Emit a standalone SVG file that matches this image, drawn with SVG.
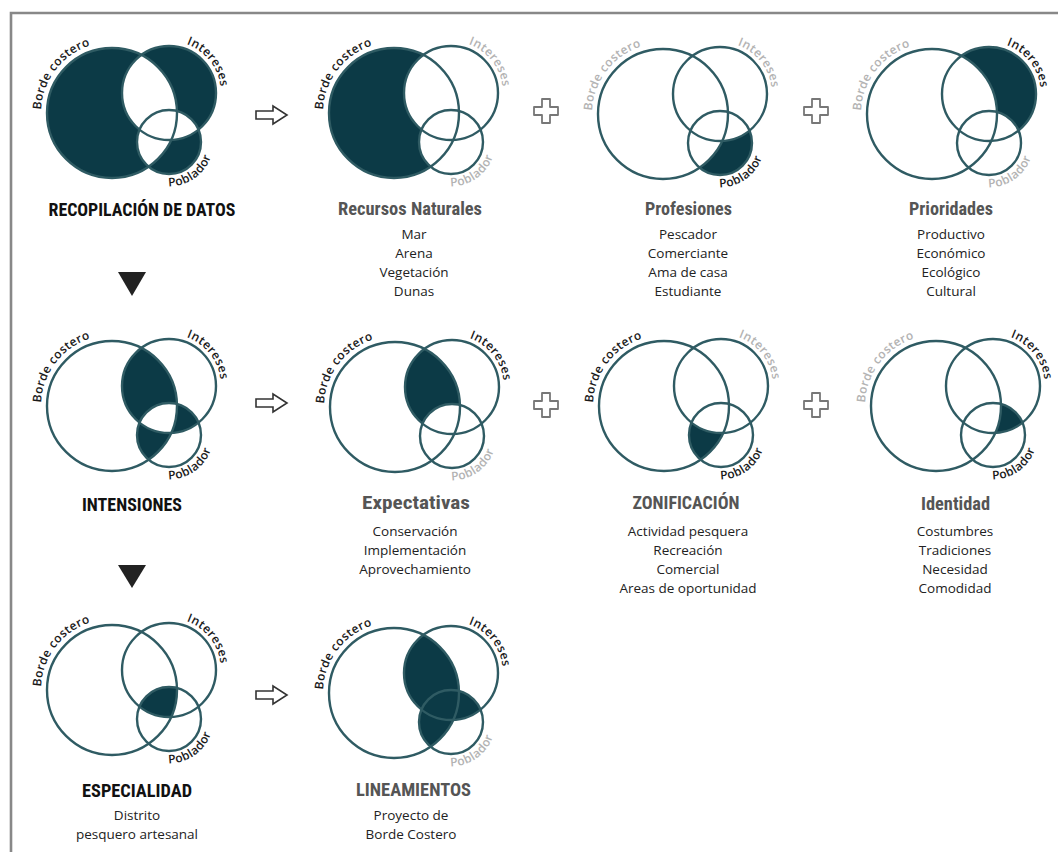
<svg xmlns="http://www.w3.org/2000/svg" xmlns:xlink="http://www.w3.org/1999/xlink" width="1058" height="852" viewBox="0 0 1058 852">
<style>
.lb{font-family:'Open Sans','DejaVu Sans',sans-serif;font-size:12px;font-weight:600;letter-spacing:0.4px;text-anchor:middle}
.k{fill:#1a1a1a}
.g{fill:#b3b3b3}
.t{font-family:'Liberation Sans Narrow','Roboto Condensed','Liberation Sans',sans-serif;font-weight:bold;font-size:18px;text-anchor:middle}
.tk{fill:#111111}
.tg{fill:#555555}
.s{font-family:'Open Sans','Liberation Sans',sans-serif;font-size:13.5px;fill:#222222;text-anchor:middle}
</style>
<defs>
<clipPath id="cA"><circle cx="0" cy="0" r="65"/></clipPath>
<clipPath id="cI"><circle cx="57" cy="-20" r="47"/></clipPath>
<mask id="nA"><rect x="-120" y="-120" width="300" height="300" fill="#fff"/><circle r="65" fill="#000"/></mask>
<mask id="nI"><rect x="-120" y="-120" width="300" height="300" fill="#fff"/><circle cx="57" cy="-20" r="47" fill="#000"/></mask>
<mask id="nP"><rect x="-120" y="-120" width="300" height="300" fill="#fff"/><circle cx="57" cy="29" r="32" fill="#000"/></mask>
<mask id="nIP"><rect x="-120" y="-120" width="300" height="300" fill="#fff"/><circle cx="57" cy="-20" r="47" fill="#000"/><circle cx="57" cy="29" r="32" fill="#000"/></mask>
<mask id="nAP"><rect x="-120" y="-120" width="300" height="300" fill="#fff"/><circle r="65" fill="#000"/><circle cx="57" cy="29" r="32" fill="#000"/></mask>
<mask id="nAI"><rect x="-120" y="-120" width="300" height="300" fill="#fff"/><circle r="65" fill="#000"/><circle cx="57" cy="-20" r="47" fill="#000"/></mask>
<g id="rA"><circle r="65" fill="#0c3a46" mask="url(#nIP)"/></g>
<g id="rI"><circle cx="57" cy="-20" r="47" fill="#0c3a46" mask="url(#nAP)"/></g>
<g id="rP"><circle cx="57" cy="29" r="32" fill="#0c3a46" mask="url(#nAI)"/></g>
<g id="rAI"><g clip-path="url(#cA)"><circle cx="57" cy="-20" r="47" fill="#0c3a46" mask="url(#nP)"/></g></g>
<g id="rAP"><g clip-path="url(#cA)"><circle cx="57" cy="29" r="32" fill="#0c3a46" mask="url(#nI)"/></g></g>
<g id="rIP"><g clip-path="url(#cI)"><circle cx="57" cy="29" r="32" fill="#0c3a46" mask="url(#nA)"/></g></g>
<g id="rAIP"><g clip-path="url(#cA)"><g clip-path="url(#cI)"><circle cx="57" cy="29" r="32" fill="#0c3a46"/></g></g></g>
<g id="rAIfull"><g clip-path="url(#cA)"><circle cx="57" cy="-20" r="47" fill="#0c3a46"/></g></g>
<g id="rAPfull"><g clip-path="url(#cA)"><circle cx="57" cy="29" r="32" fill="#0c3a46"/></g></g>
<g id="rIPfull"><g clip-path="url(#cI)"><circle cx="57" cy="29" r="32" fill="#0c3a46"/></g></g>
<g id="ol" fill="none" stroke="#2f5b63" stroke-width="2.4"><circle r="65"/><circle cx="57" cy="-20" r="47"/><circle cx="57" cy="29" r="32"/></g>
<path id="pB" d="M -66.72 24.28 A 71 71 0 0 1 6.19 -70.73"/>
<path id="pI" d="M 58.36 -71.98 A 52 52 0 0 1 107.96 -9.63"/>
<path id="pP" d="M 46.3 72.1 A 44.5 44.5 0 0 0 101.3 33.2"/>
<path id="plus" d="M -4 -12 H 4 V -4 H 12 V 4 H 4 V 12 H -4 V 4 H -12 V -4 H -4 Z" fill="#fff" stroke="#777" stroke-width="1.8" stroke-linejoin="round"/>
<path id="arr" d="M 0 -4 H 17 V -9 L 31 0 L 17 9 V 4 H 0 Z" fill="#fff" stroke="#333" stroke-width="1.6" stroke-linejoin="miter"/>
</defs>
<rect x="0" y="0" width="1058" height="852" fill="#ffffff"/>
<path d="M 11 852 V 13 H 1058" fill="none" stroke="#888" stroke-width="2.6"/>

<g id="connectors">
<use href="#arr" x="256" y="115"/>
<use href="#arr" x="256" y="403"/>
<use href="#arr" x="256" y="695"/>
<use href="#plus" x="546" y="111"/>
<use href="#plus" x="816" y="111"/>
<use href="#plus" x="546" y="405"/>
<use href="#plus" x="816" y="405"/>
<path d="M 118 272 H 146 L 132 296 Z" fill="#222"/>
<path d="M 118 565 H 146 L 132 588 Z" fill="#222"/>
</g>

<g id="n1">
<g transform="translate(112,113)">
<use href="#rA"/><use href="#rI"/><use href="#rP"/><use href="#ol"/>
<text class="lb k"><textPath href="#pB" startOffset="50%">Borde costero</textPath></text>
<text class="lb k"><textPath href="#pI" startOffset="50%">Intereses</textPath></text>
<text class="lb k"><textPath href="#pP" startOffset="50%">Poblador</textPath></text>
</g>
<text class="t tk" x="142" y="216" font-size="19" textLength="187" lengthAdjust="spacingAndGlyphs">RECOPILACIÓN DE DATOS</text>
</g>

<g id="n2">
<g transform="translate(394,113)">
<use href="#rA"/><use href="#ol"/>
<text class="lb k"><textPath href="#pB" startOffset="50%">Borde costero</textPath></text>
<text class="lb g"><textPath href="#pI" startOffset="50%">Intereses</textPath></text>
<text class="lb g"><textPath href="#pP" startOffset="50%">Poblador</textPath></text>
</g>
<text class="t tg" x="410" y="215" textLength="144" lengthAdjust="spacingAndGlyphs">Recursos Naturales</text>
<text class="s" x="414" y="239">Mar</text>
<text class="s" x="414" y="258">Arena</text>
<text class="s" x="414" y="277">Vegetación</text>
<text class="s" x="414" y="296">Dunas</text>
</g>

<g id="n3">
<g transform="translate(663,114)">
<use href="#rP"/><use href="#ol"/>
<text class="lb g"><textPath href="#pB" startOffset="50%">Borde costero</textPath></text>
<text class="lb g"><textPath href="#pI" startOffset="50%">Intereses</textPath></text>
<text class="lb k"><textPath href="#pP" startOffset="50%">Poblador</textPath></text>
</g>
<text class="t tg" x="688.5" y="215" textLength="87" lengthAdjust="spacingAndGlyphs">Profesiones</text>
<text class="s" x="688" y="239">Pescador</text>
<text class="s" x="688" y="258">Comerciante</text>
<text class="s" x="688" y="277">Ama de casa</text>
<text class="s" x="688" y="296">Estudiante</text>
</g>

<g id="n4">
<g transform="translate(932,114)">
<use href="#rI"/><use href="#ol"/>
<text class="lb g"><textPath href="#pB" startOffset="50%">Borde costero</textPath></text>
<text class="lb k"><textPath href="#pI" startOffset="50%">Intereses</textPath></text>
<text class="lb g"><textPath href="#pP" startOffset="50%">Poblador</textPath></text>
</g>
<text class="t tg" x="951" y="215" textLength="84" lengthAdjust="spacingAndGlyphs">Prioridades</text>
<text class="s" x="951" y="239">Productivo</text>
<text class="s" x="951" y="258">Económico</text>
<text class="s" x="951" y="277">Ecológico</text>
<text class="s" x="951" y="296">Cultural</text>
</g>

<g id="n5">
<g transform="translate(112,406)">
<use href="#rAI"/><use href="#rAP"/><use href="#rIP"/><use href="#ol"/>
<text class="lb k"><textPath href="#pB" startOffset="50%">Borde costero</textPath></text>
<text class="lb k"><textPath href="#pI" startOffset="50%">Intereses</textPath></text>
<text class="lb k"><textPath href="#pP" startOffset="50%">Poblador</textPath></text>
</g>
<text class="t tk" x="132" y="511" font-size="19" textLength="100" lengthAdjust="spacingAndGlyphs">INTENSIONES</text>
</g>

<g id="n6">
<g transform="translate(395,407)">
<use href="#rAI"/><use href="#ol"/>
<text class="lb k"><textPath href="#pB" startOffset="50%">Borde costero</textPath></text>
<text class="lb k"><textPath href="#pI" startOffset="50%">Intereses</textPath></text>
<text class="lb g"><textPath href="#pP" startOffset="50%">Poblador</textPath></text>
</g>
<text class="t tg" x="416" y="509" font-size="20" textLength="108" lengthAdjust="spacingAndGlyphs">Expectativas</text>
<text class="s" x="415" y="536">Conservación</text>
<text class="s" x="415" y="555">Implementación</text>
<text class="s" x="415" y="574">Aprovechamiento</text>
</g>

<g id="n7">
<g transform="translate(664,406)">
<use href="#rAP"/><use href="#ol"/>
<text class="lb k"><textPath href="#pB" startOffset="50%">Borde costero</textPath></text>
<text class="lb g"><textPath href="#pI" startOffset="50%">Intereses</textPath></text>
<text class="lb k"><textPath href="#pP" startOffset="50%">Poblador</textPath></text>
</g>
<text class="t tg" x="686" y="509" textLength="107" lengthAdjust="spacingAndGlyphs">ZONIFICACIÓN</text>
<text class="s" x="688" y="536">Actividad pesquera</text>
<text class="s" x="688" y="555">Recreación</text>
<text class="s" x="688" y="574">Comercial</text>
<text class="s" x="688" y="593">Areas de oportunidad</text>
</g>

<g id="n8">
<g transform="translate(936,406)">
<use href="#rIP"/><use href="#ol"/>
<text class="lb g"><textPath href="#pB" startOffset="50%">Borde costero</textPath></text>
<text class="lb k"><textPath href="#pI" startOffset="50%">Intereses</textPath></text>
<text class="lb k"><textPath href="#pP" startOffset="50%">Poblador</textPath></text>
</g>
<text class="t tg" x="955.5" y="510" textLength="69" lengthAdjust="spacingAndGlyphs">Identidad</text>
<text class="s" x="955" y="536">Costumbres</text>
<text class="s" x="955" y="555">Tradiciones</text>
<text class="s" x="955" y="574">Necesidad</text>
<text class="s" x="955" y="593">Comodidad</text>
</g>

<g id="n9">
<g transform="translate(112,690)">
<use href="#rAIP"/><use href="#ol"/>
<text class="lb k"><textPath href="#pB" startOffset="50%">Borde costero</textPath></text>
<text class="lb k"><textPath href="#pI" startOffset="50%">Intereses</textPath></text>
<text class="lb k"><textPath href="#pP" startOffset="50%">Poblador</textPath></text>
</g>
<text class="t tk" x="137" y="797" font-size="19" textLength="110" lengthAdjust="spacingAndGlyphs">ESPECIALIDAD</text>
<text class="s" x="137" y="820">Distrito</text>
<text class="s" x="137" y="839">pesquero artesanal</text>
</g>

<g id="n10">
<g transform="translate(394,693)">
<use href="#rAIfull"/><use href="#rAPfull"/><use href="#rIPfull"/><use href="#ol"/>
<text class="lb k"><textPath href="#pB" startOffset="50%">Borde costero</textPath></text>
<text class="lb k"><textPath href="#pI" startOffset="50%">Intereses</textPath></text>
<text class="lb g"><textPath href="#pP" startOffset="50%">Poblador</textPath></text>
</g>
<text class="t tg" x="413.5" y="796" font-size="19" textLength="115" lengthAdjust="spacingAndGlyphs">LINEAMIENTOS</text>
<text class="s" x="411" y="820">Proyecto de</text>
<text class="s" x="411" y="839">Borde Costero</text>
</g>
</svg>
